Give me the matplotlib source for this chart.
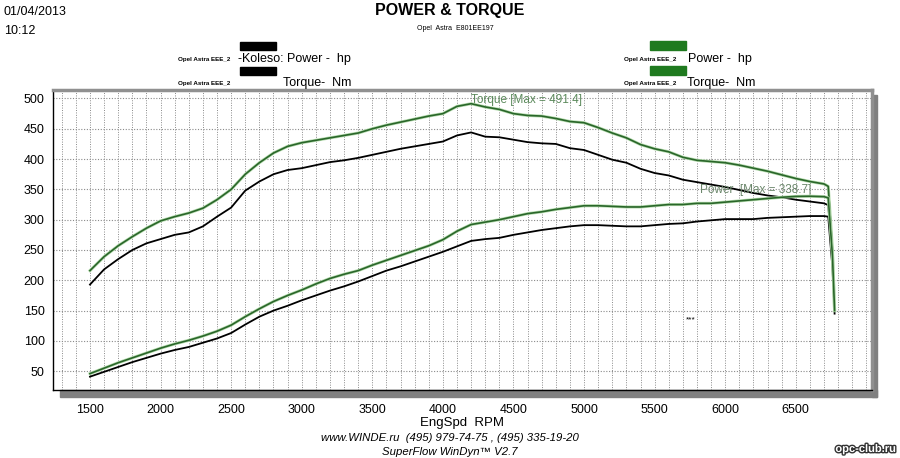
import matplotlib
matplotlib.use('Agg')
import matplotlib.pyplot as plt
import matplotlib.patheffects as pe
from matplotlib.patches import Rectangle

plt.rcParams['font.family'] = ['Liberation Sans', 'DejaVu Sans']

# RPM points
rpm = [1500, 1600, 1700, 1800, 1900, 2000, 2100, 2200, 2300, 2400,
       2500, 2600, 2700, 2800, 2900, 3000, 3100, 3200, 3300, 3400,
       3500, 3600, 3700, 3800, 3900, 4000, 4100, 4200, 4300, 4400,
       4500, 4600, 4700, 4800, 4900, 5000, 5100, 5200, 5300, 5400,
       5500, 5600, 5700, 5800, 5900, 6000, 6100, 6200, 6300, 6400,
       6500, 6600, 6700, 6730, 6760, 6775]

# green run (Opel Astra EEE_2)
torque_green = [216, 239, 257, 272, 286, 298, 305, 311, 319, 333,
                350, 375, 394, 410, 421, 427, 431, 435, 439, 443,
                450, 456, 461, 466, 471, 475, 487, 491.4, 486, 482,
                475, 472, 471, 467, 462, 460, 452, 443, 435, 424,
                417, 412, 403, 398, 396, 394, 390, 385, 380, 374,
                368, 363, 359, 355, 250, 150]
power_green = [46, 55, 64, 72, 80, 88, 95, 101, 108, 116,
               126, 140, 153, 165, 175, 184, 194, 203, 210, 216,
               225, 233, 241, 249, 257, 267, 281, 292, 296, 300,
               305, 310, 313, 317, 320, 323, 323, 322, 321, 321,
               323, 325, 325, 327, 327, 329, 331, 333, 335, 337,
               338.4, 338.7, 338, 336, 240, 150]

# black run (Opel Astra EEE_2 -Koleso)
torque_black = [193, 218, 235, 250, 261, 268, 275, 279, 289, 305,
                320, 348, 363, 375, 382, 385, 390, 395, 398, 402,
                407, 412, 417, 421, 425, 429, 439, 444, 437, 436,
                432, 428, 426, 425, 418, 415, 407, 399, 394, 384,
                377, 373, 366, 362, 358, 354, 349, 344, 340, 337,
                333, 330, 327, 324, 230, 150]
power_black = [41, 49, 57, 65, 72, 79, 85, 90, 97, 104,
               113, 127, 140, 150, 158, 167, 175, 183, 190, 198,
               207, 216, 223, 231, 239, 247, 256, 265, 268, 270,
               275, 279, 283, 286, 289, 291, 291, 290, 289, 289,
               291, 293, 294, 297, 299, 301, 301, 301, 303, 304,
               305, 306, 306, 305, 220, 145]

x_ticks = [1500, 2000, 2500, 3000, 3500, 4000, 4500, 5000, 5500, 6000, 6500]
y_ticks = [50, 100, 150, 200, 250, 300, 350, 400, 450, 500]

W, H = 900, 458
fig = plt.figure(figsize=(W / 100, H / 100), dpi=100)
ax = fig.add_axes([53 / W, 1 - 390 / H, 819 / W, 300 / H])

green = '#2a662a'
glow = '#b5dcae'

# grid
for x in range(1300, 7100, 100):
    ax.axvline(x, color='#8a8a8a', lw=0.7, ls=(0, (1, 1.5)), zorder=1)
for y in y_ticks:
    ax.axhline(y, color='#8a8a8a', lw=0.8, ls=(0, (1, 1.5)), zorder=1)

for ys in [torque_black, power_black]:
    ax.plot(rpm, ys, color='black', lw=1.3, zorder=3)
for ys in [torque_green, power_green]:
    ax.plot(rpm, ys, color=green, lw=1.2, zorder=4,
            path_effects=[pe.Stroke(linewidth=2.2, foreground=glow), pe.Normal()])

ax.set_xlim(1238, 7040)
ax.set_ylim(19, 514)
ax.set_xticks(x_ticks)
ax.set_yticks(y_ticks)
ax.tick_params(axis='x', labelsize=9, length=0, pad=10)
ax.tick_params(axis='y', labelsize=9, length=0, pad=6)
ax.set_xlabel('EngSpd  RPM', fontsize=9.5, labelpad=1)

for side in ['top', 'right']:
    ax.spines[side].set_color('#909090')
    ax.spines[side].set_linewidth(2.5)
for side in ['left', 'bottom']:
    ax.spines[side].set_color('black')
    ax.spines[side].set_linewidth(1)

# drop shadow below and right of the plot box
ax.add_patch(Rectangle((7 / 819, -7 / 300), 1 - 7 / 819 + 5 / 819, 7 / 300,
                       transform=ax.transAxes, clip_on=False, color='#808080', zorder=0))
ax.add_patch(Rectangle((1.0, -7 / 300), 5 / 819, 1 + 2 / 300,
                       transform=ax.transAxes, clip_on=False, color='#808080', zorder=0))

# max labels
ax.text(4200, 498, 'Torque [Max = 491.4]', color='#5c8a5c', fontsize=8.5, ha='left', va='center')
ax.text(5820, 349, 'Power  [Max = 338.7]', color='#6b876b', fontsize=8.5, ha='left', va='center')
ax.text(5720, 135, '***', color='black', fontsize=6, ha='left', va='center')


def ftext(px, py, s, **kw):
    fig.text(px / W, 1 - py / H, s, **kw)


ftext(4, 12, '01/04/2013', fontsize=9, va='center')
ftext(4, 31, '10:12', fontsize=9, va='center')
ftext(450, 11, 'POWER & TORQUE', fontsize=11.5, fontweight='bold', ha='center', va='center')
ftext(455, 28, 'Opel  Astra  E801EE197', fontsize=5, ha='center', va='center')

# legend blocks
fig.patches.append(Rectangle((240 / W, 1 - 50 / H), 36 / W, 8 / H, transform=fig.transFigure, color='black'))
fig.patches.append(Rectangle((240 / W, 1 - 75 / H), 36 / W, 8 / H, transform=fig.transFigure, color='black'))
fig.patches.append(Rectangle((650 / W, 1 - 50 / H), 36 / W, 9 / H, transform=fig.transFigure, color='#1f7a1f'))
fig.patches.append(Rectangle((650 / W, 1 - 75 / H), 36 / W, 9 / H, transform=fig.transFigure, color='#1f7a1f'))

ftext(178, 60, 'Opel Astra EEE_2', fontsize=4.5, fontweight='bold', va='center')
ftext(238, 59, '-Koleso: Power -  hp', fontsize=9, va='center')
ftext(178, 84, 'Opel Astra EEE_2', fontsize=4.5, fontweight='bold', va='center')
ftext(283, 83, 'Torque-  Nm', fontsize=9, va='center')
ftext(624, 59, 'Opel Astra EEE_2', fontsize=4.5, fontweight='bold', va='center')
ftext(688, 59, 'Power -  hp', fontsize=9, va='center')
ftext(624, 84, 'Opel Astra EEE_2', fontsize=4.5, fontweight='bold', va='center')
ftext(687, 83, 'Torque-  Nm', fontsize=9, va='center')

ftext(450, 438, 'www.WINDE.ru  (495) 979-74-75 , (495) 335-19-20', fontsize=8.2,
      style='italic', ha='center', va='center')
ftext(450, 452, 'SuperFlow WinDyn\u2122 V2.7', fontsize=8.2, style='italic', ha='center', va='center')
ftext(896, 449, 'opc-club.ru', fontsize=8, fontweight='bold', color='white', ha='right', va='center',
      path_effects=[pe.withStroke(linewidth=2, foreground='#333333')])

fig.savefig('out.png', dpi=100)
